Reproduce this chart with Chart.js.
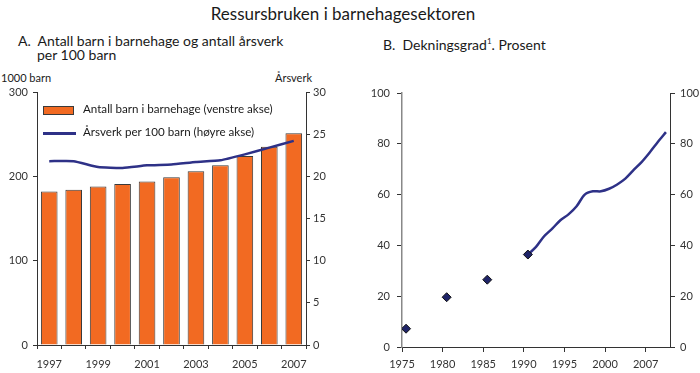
<!DOCTYPE html>
<html>
<head>
<meta charset="utf-8">
<script src="https://cdn.jsdelivr.net/npm/chart.js@4"></script>
<style>
  body { margin:0; background:#fff; font-family: Lato, "Noto Sans", sans-serif; color:#1a1a1a; }
  .wrap { position:relative; width:700px; height:373px; overflow:hidden; }
  .txt { position:absolute; white-space:nowrap; }
  canvas { position:absolute; }
</style>
</head>
<body>
<div class="wrap">
  <div class="txt" style="left:0;width:686px;text-align:center;top:3px;font-size:17px;">Ressursbruken i barnehagesektoren</div>
  <div class="txt" style="left:18px;top:34px;font-size:14px;line-height:14px;">A.&nbsp; Antall barn i barnehage og antall årsverk<br><span style="padding-left:19px">per 100 barn</span></div>
  <div class="txt" style="left:383px;top:34px;font-size:14px;line-height:14px;">B.&nbsp; Dekningsgrad<sup style="font-size:8px">1</sup>. Prosent</div>
  <div class="txt" style="left:1px;top:71px;font-size:11px;">1000 barn</div>
  <div class="txt" style="left:275px;top:71px;font-size:11px;">Årsverk</div>

  <canvas id="chartA" width="350" height="313" style="left:0;top:60px;"></canvas>
  <canvas id="chartB" width="350" height="313" style="left:350px;top:60px;"></canvas>

  <div id="legendA"></div>
</div>

<script>
// panel A
const years = ['1997','1998','1999','2000','2001','2002','2003','2004','2005','2006','2007'];
const barn = [182, 184, 188, 191, 194, 199, 206, 213, 224, 235, 251];
const arsverk = [21.8, 21.8, 21.1, 21.0, 21.3, 21.4, 21.7, 21.9, 22.6, 23.4, 24.2];
const labelsA = ['Antall barn i barnehage (venstre akse)', 'Årsverk per 100 barn (høyre akse)'];

// panel B
const pointYears = [1975, 1980, 1985, 1990];
const pointVals = [7.2, 19.6, 26.5, 36.4];
const lineYears = [1990,1991,1992,1993,1994,1995,1996,1997,1998,1999,2000,2001,2002,2003,2004,2005,2006,2007];
const lineVals = [36.4, 39.4, 43.6, 46.6, 49.9, 52.2, 55.4, 60.0, 61.3, 61.3, 62.3, 64.0, 66.3, 69.6, 72.8, 76.6, 80.7, 84.6];
const tickLabelsB = ['1975','1980','1985','1990','1995','2000','2007'];

const orange = '#f26a22';
const navy = '#2e3187';
const axisCol = '#333';
const tickFont = { family: 'Lato, "Noto Sans", sans-serif', size: 11 };

function fixW(w){ return function(s){ s.width = w; }; }
function fixH(h){ return function(s){ s.height = h; }; }

new Chart(document.getElementById('chartA'), {
  data: {
    labels: years,
    datasets: [
      { type:'line', label: labelsA[1], data: arsverk, yAxisID:'y1', borderColor: navy, borderWidth: 2.5,
        pointRadius: 0, tension: 0.15, order: 0 },
      { type:'bar', label: labelsA[0], data: barn, yAxisID:'y', backgroundColor: orange, borderColor: '#3a3a3a',
        borderWidth: 1, barPercentage: 0.68, categoryPercentage: 1, order: 1 }
    ]
  },
  options: {
    responsive: false, devicePixelRatio: 1, animation: false,
    layout: { padding: { top: 32, left: 0, right: 0, bottom: 0 } },
    plugins: { legend: { display: false }, tooltip: { enabled: false } },
    scales: {
      x: {
        offset: true,
        grid: { offset: true, drawOnChartArea: false, tickLength: 4, color: axisCol },
        border: { color: axisCol },
        ticks: { color: axisCol, font: tickFont, padding: 9, maxRotation: 0, autoSkip: false,
          callback: function(v, i){ return i % 2 === 0 ? years[i] : ''; } },
        afterFit: fixH(28)
      },
      y: {
        position: 'left', min: 0, max: 300,
        grid: { drawOnChartArea: false, tickLength: 4, color: axisCol },
        border: { color: axisCol },
        ticks: { stepSize: 100, color: axisCol, font: tickFont, padding: 5 },
        afterFit: fixW(37)
      },
      y1: {
        position: 'right', min: 0, max: 30,
        grid: { drawOnChartArea: false, tickLength: 4, color: axisCol },
        border: { color: axisCol },
        ticks: { stepSize: 5, color: axisCol, font: tickFont, padding: 3 },
        afterFit: fixW(44)
      }
    }
  }
});

// legend for panel A (inside plot area)
(function(){
  const lg = document.getElementById('legendA');
  lg.innerHTML =
    '<div style="position:absolute;left:43px;top:106px;width:29px;height:7px;background:' + orange + ';border:1px solid #3a3a3a;"></div>' +
    '<div class="txt" style="left:83px;top:102px;font-size:11.6px;">' + labelsA[0] + '</div>' +
    '<div style="position:absolute;left:43px;top:132px;width:33px;height:2.5px;background:' + navy + ';"></div>' +
    '<div class="txt" style="left:83px;top:125px;font-size:11.6px;">' + labelsA[1] + '</div>';
})();

new Chart(document.getElementById('chartB'), {
  data: {
    datasets: [
      { type:'line', data: lineYears.map((x, i) => ({ x: x, y: lineVals[i] })), borderColor: navy, borderWidth: 2.5,
        pointRadius: 0, tension: 0.3, order: 1 },
      { type:'scatter', data: pointYears.map((x, i) => ({ x: x, y: pointVals[i] })), pointStyle: 'rectRot',
        pointRadius: 4.5, backgroundColor: '#1f2468', borderColor: '#111', borderWidth: 1, order: 0 }
    ]
  },
  options: {
    responsive: false, devicePixelRatio: 1, animation: false,
    layout: { padding: { top: 33, left: 0, right: 0, bottom: 0 } },
    plugins: { legend: { display: false }, tooltip: { enabled: false } },
    scales: {
      x: {
        type: 'linear', min: 1974.5, max: 2007.5,
        afterBuildTicks: function(s){ s.ticks = tickLabelsB.map((_, i) => ({ value: 1974.5 + 5 * i })); },
        grid: { drawOnChartArea: false, tickLength: 5, color: axisCol },
        border: { color: axisCol },
        ticks: { color: axisCol, font: tickFont, padding: 6, maxRotation: 0, autoSkip: false,
          callback: function(v, i){ return tickLabelsB[i]; } },
        afterFit: fixH(26)
      },
      y: {
        position: 'left', min: 0, max: 100,
        grid: { drawOnChartArea: false, tickLength: 5, color: axisCol },
        border: { color: '#888', width: 1.5 },
        ticks: { stepSize: 20, color: axisCol, font: tickFont, padding: 7 },
        afterFit: fixW(52)
      },
      y1: {
        position: 'right', min: 0, max: 100,
        grid: { drawOnChartArea: false, tickLength: 5, color: axisCol },
        border: { color: axisCol },
        ticks: { stepSize: 20, color: axisCol, font: tickFont, padding: 5 },
        afterFit: fixW(30)
      }
    }
  }
});
</script>
</body>
</html>
